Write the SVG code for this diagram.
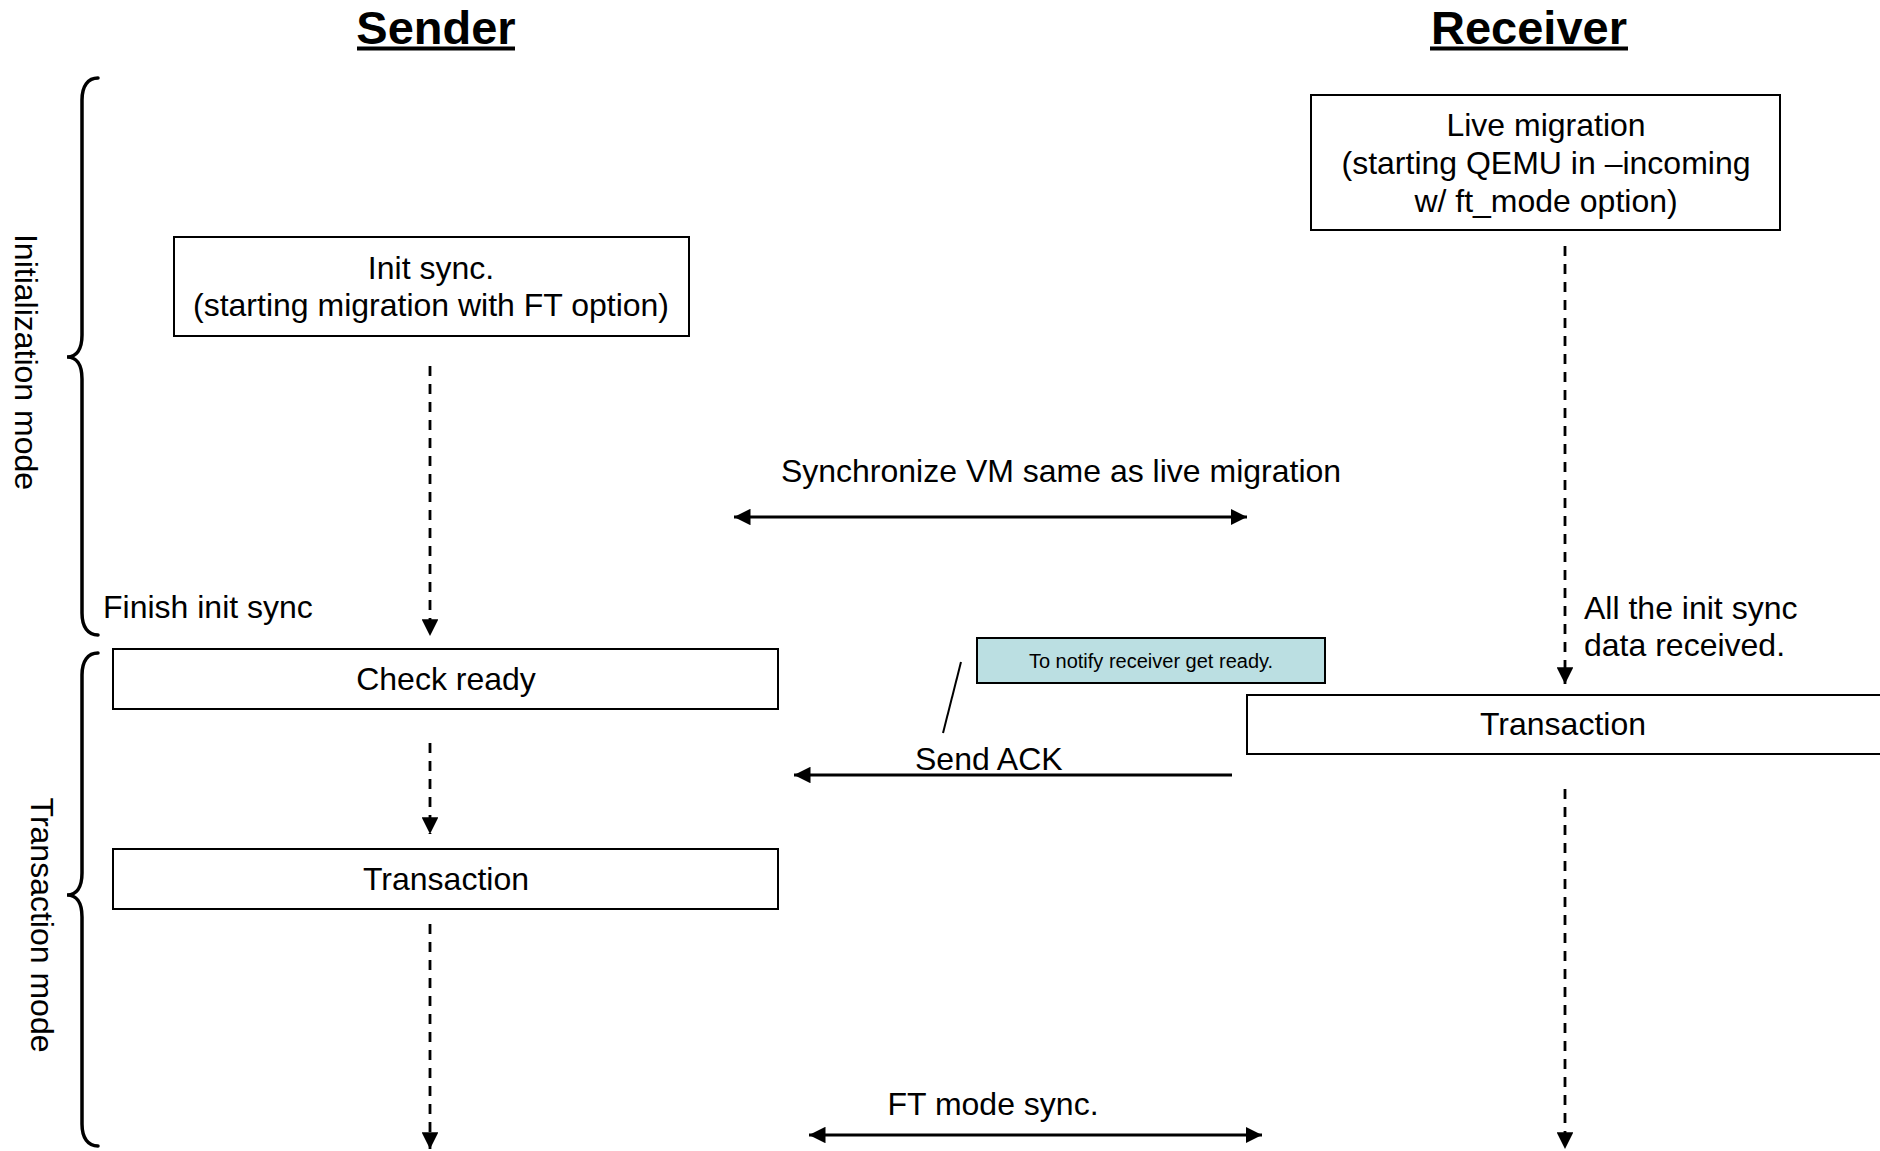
<svg xmlns="http://www.w3.org/2000/svg" width="1880" height="1151" viewBox="0 0 1880 1151">
<defs>
<style>
text{font-family:"Liberation Sans",Arial,sans-serif;fill:#000}
.t{font-size:32px}
.m{text-anchor:middle}
.title{font-size:47px;font-weight:bold;text-anchor:middle}
.box{fill:#fff;stroke:#000;stroke-width:2}
.note{fill:#BBDFE2;stroke:#000;stroke-width:2}
.dash{fill:none;stroke:#000;stroke-width:2.8;stroke-dasharray:10 8}
.solid{fill:none;stroke:#000;stroke-width:3}
.brace{fill:none;stroke:#000;stroke-width:3.5;stroke-linecap:round}
</style>
<marker id="ah" viewBox="0 0 10 10" refX="10" refY="5" markerWidth="5.5" markerHeight="5.5" orient="auto-start-reverse" markerUnits="strokeWidth">
<path d="M0,0 L10,5 L0,10 z" fill="#000"/>
</marker>
<marker id="ahd" viewBox="0 0 10 10" refX="10" refY="5" markerWidth="6" markerHeight="6" orient="auto" markerUnits="strokeWidth">
<path d="M0,0 L10,5 L0,10 z" fill="#000"/>
</marker>
</defs>
<rect width="1880" height="1151" fill="#fff"/>

<g id="titles">
<text class="title" x="436" y="44">Sender</text>
<line x1="357" y1="48.5" x2="515" y2="48.5" stroke="#000" stroke-width="4"/>
<text class="title" x="1529" y="44">Receiver</text>
<line x1="1430" y1="48.5" x2="1628" y2="48.5" stroke="#000" stroke-width="4"/>
</g>

<g id="braces">
<path class="brace" d="M98,78 C88,78 82,86 82,100 L82,335 C82,350 76,357 67,357 C76,357 82,364 82,379 L82,613 C82,627 88,635 98,635"/>
<path class="brace" d="M98,653 C88,653 82,661 82,675 L82,873 C82,888 76,895 67,895 C76,895 82,902 82,917 L82,1124 C82,1138 88,1146 98,1146"/>
<text class="t m" x="15" y="362" transform="rotate(90 15 362)">Initialization mode</text>
<text class="t m" x="31" y="925" transform="rotate(90 31 925)">Transaction mode</text>
</g>

<g id="node-live-migration">
<rect class="box" x="1311" y="95" width="469" height="135"/>
<text class="t m" x="1546" y="136">Live migration</text>
<text class="t m" x="1546" y="174">(starting QEMU in –incoming</text>
<text class="t m" x="1546" y="212">w/ ft_mode option)</text>
</g>

<g id="node-init-sync">
<rect class="box" x="174" y="237" width="515" height="99"/>
<text class="t m" x="431" y="279">Init sync.</text>
<text class="t m" x="431" y="316">(starting migration with FT option)</text>
</g>

<g id="node-check-ready">
<rect class="box" x="113" y="649" width="665" height="60"/>
<text class="t m" x="446" y="690">Check ready</text>
</g>

<g id="node-sender-transaction">
<rect class="box" x="113" y="849" width="665" height="60"/>
<text class="t m" x="446" y="890">Transaction</text>
</g>

<g id="node-receiver-transaction">
<rect class="box" x="1247" y="695" width="640" height="59"/>
<text class="t m" x="1563" y="735">Transaction</text>
</g>

<g id="node-note">
<rect class="note" x="977" y="638" width="348" height="45"/>
<text x="1151" y="668" font-size="20" text-anchor="middle">To notify receiver get ready.</text>
</g>

<g id="labels">
<text class="t m" x="1061" y="482">Synchronize VM same as live migration</text>
<text class="t" x="103" y="618">Finish init sync</text>
<text class="t" x="1584" y="619">All the init sync</text>
<text class="t" x="1584" y="656">data received.</text>
<text class="t" x="915" y="770">Send ACK</text>
<text class="t m" x="993" y="1115">FT mode sync.</text>
</g>

<g id="connectors">
<line class="dash" x1="430" y1="366" x2="430" y2="636" marker-end="url(#ahd)"/>
<line class="dash" x1="1565" y1="246" x2="1565" y2="684" marker-end="url(#ahd)"/>
<line class="dash" x1="430" y1="743" x2="430" y2="834" marker-end="url(#ahd)"/>
<line class="dash" x1="430" y1="924" x2="430" y2="1149" marker-end="url(#ahd)"/>
<line class="dash" x1="1565" y1="789" x2="1565" y2="1149" marker-end="url(#ahd)"/>
<line class="solid" x1="734" y1="517" x2="1247" y2="517" marker-start="url(#ah)" marker-end="url(#ah)"/>
<line class="solid" x1="809" y1="1135" x2="1262" y2="1135" marker-start="url(#ah)" marker-end="url(#ah)"/>
<line class="solid" x1="1232" y1="775" x2="794" y2="775" stroke-width="2.5" marker-end="url(#ah)"/>
<line x1="961" y1="662" x2="943" y2="733" stroke="#000" stroke-width="2"/>
</g>
</svg>
